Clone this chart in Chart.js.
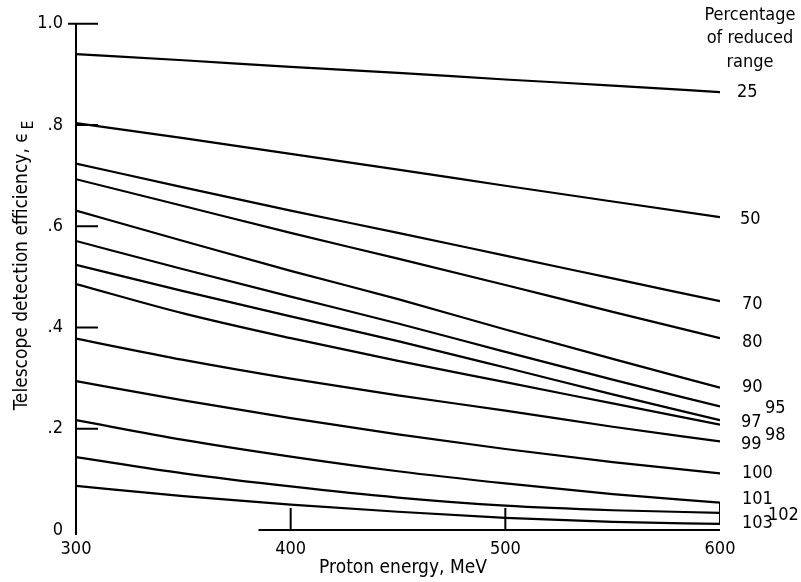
<!DOCTYPE html>
<html>
<head>
<meta charset="utf-8">
<script src="https://cdn.jsdelivr.net/npm/chart.js@4"></script>
<style>
  html, body { margin: 0; background: #fff; }
</style>
</head>
<body>
<canvas id="chart-eff" width="801" height="582"></canvas>
<script>
// proton energy, MeV
const energies = [300, 350, 400, 450, 500, 550, 600];

// percentage of reduced range, one curve each
const rangePct = ['25', '50', '70', '80', '90', '95', '97', '98', '99', '100', '101', '102', '103'];

// telescope detection efficiency at each energy
const eff25  = [0.940, 0.928, 0.915, 0.903, 0.890, 0.878, 0.865];
const eff50  = [0.804, 0.774, 0.743, 0.712, 0.680, 0.649, 0.618];
const eff70  = [0.724, 0.677, 0.631, 0.587, 0.542, 0.497, 0.452];
const eff80  = [0.693, 0.640, 0.587, 0.536, 0.484, 0.431, 0.379];
const eff90  = [0.631, 0.571, 0.512, 0.456, 0.396, 0.338, 0.281];
const eff95  = [0.571, 0.515, 0.461, 0.408, 0.352, 0.297, 0.244];
const eff97  = [0.524, 0.472, 0.422, 0.373, 0.321, 0.268, 0.217];
const eff98  = [0.486, 0.428, 0.379, 0.334, 0.292, 0.250, 0.208];
const eff99  = [0.378, 0.336, 0.299, 0.266, 0.236, 0.204, 0.175];
const eff100 = [0.294, 0.256, 0.221, 0.189, 0.160, 0.134, 0.112];
const eff101 = [0.217, 0.178, 0.145, 0.116, 0.092, 0.071, 0.054];
const eff102 = [0.144, 0.112, 0.086, 0.064, 0.048, 0.039, 0.034];
const eff103 = [0.087, 0.067, 0.050, 0.036, 0.024, 0.016, 0.012];

const curves = [eff25, eff50, eff70, eff80, eff90, eff95, eff97, eff98, eff99, eff100, eff101, eff102, eff103];

// y tick values drawn on the left axis
const yTicks = [0, 0.2, 0.4, 0.6, 0.8, 1.0];
const yTickText = ['0', '.2', '.4', '.6', '.8', '1.0'];

// nudges for the curve labels at the right end [dx, dy]
const labelNudge = [
  [17, 0], [20, 2], [22, 3], [22, 4], [22, 0], [45, 2], [21, 2],
  [45, 11], [21, 3], [22, 0], [22, -3], [48, 3], [22, -1]
];

const FONT = '"DejaVu Sans Condensed", "DejaVu Sans", sans-serif';

const datasets = curves.map((vals, i) => ({
  label: rangePct[i],
  data: energies.map((e, j) => ({ x: e, y: vals[j] })),
  borderColor: '#000',
  borderWidth: 2.2,
  pointRadius: 0,
  cubicInterpolationMode: 'monotone',
  fill: false
}));

// short bracket tying the 101-103 curve ends together
datasets.push({
  label: 'bracket',
  data: [{ x: 600, y: eff101[6] }, { x: 600, y: eff103[6] }],
  borderColor: '#000',
  borderWidth: 2,
  pointRadius: 0,
  fill: false
});

const decorations = {
  id: 'decorations',
  afterDraw(chart) {
    const ctx = chart.ctx;
    const xs = chart.scales.x, ys = chart.scales.y;
    const x0 = xs.getPixelForValue(300), y0 = ys.getPixelForValue(0);
    const yTop = ys.getPixelForValue(1);
    ctx.save();
    ctx.strokeStyle = '#000';
    ctx.fillStyle = '#000';
    ctx.lineWidth = 2;

    // axes
    ctx.beginPath();
    ctx.moveTo(x0, yTop);
    ctx.lineTo(x0, y0 + 5);
    ctx.moveTo(xs.getPixelForValue(385), y0);
    ctx.lineTo(xs.getPixelForValue(600), y0);
    ctx.stroke();

    // inside tick marks
    ctx.beginPath();
    yTicks.slice(1).forEach(v => {
      const py = ys.getPixelForValue(v);
      ctx.moveTo(v === 1 ? x0 - 8 : x0, py);
      ctx.lineTo(x0 + 22, py);
    });
    [400, 500].forEach(v => {
      const px = xs.getPixelForValue(v);
      ctx.moveTo(px, y0);
      ctx.lineTo(px, y0 - 22);
    });
    ctx.stroke();

    // curve labels
    ctx.font = '18px ' + FONT;
    ctx.textBaseline = 'middle';
    ctx.textAlign = 'left';
    const xEnd = xs.getPixelForValue(600);
    curves.forEach((vals, i) => {
      const py = ys.getPixelForValue(vals[vals.length - 1]);
      ctx.fillText(rangePct[i], xEnd + labelNudge[i][0], py + labelNudge[i][1]);
    });

    // legend heading
    ctx.textAlign = 'center';
    ctx.fillText('Percentage', 750, 15);
    ctx.fillText('of reduced', 750, 38);
    ctx.fillText('range', 750, 62);

    // x title
    ctx.font = '19px ' + FONT;
    ctx.fillText('Proton energy, MeV', 403, 568);

    // y title with subscript
    ctx.translate(22, 266);
    ctx.rotate(-Math.PI / 2);
    const main = 'Telescope detection efficiency, \u03F5';
    const wMain = ctx.measureText(main).width;
    ctx.font = '15px ' + FONT;
    const wSub = ctx.measureText('E').width;
    const start = -(wMain + wSub + 2) / 2;
    ctx.font = '19px ' + FONT;
    ctx.textAlign = 'left';
    ctx.fillText(main, start, 0);
    ctx.font = '15px ' + FONT;
    ctx.fillText('E', start + wMain + 3, 7);
    ctx.restore();
  }
};

new Chart(document.getElementById('chart-eff'), {
  type: 'line',
  data: { datasets },
  options: {
    responsive: false,
    animation: false,
    layout: { padding: { top: 21, right: 81 } },
    plugins: { legend: { display: false }, tooltip: { enabled: false } },
    scales: {
      x: {
        type: 'linear',
        min: 300,
        max: 600,
        afterFit: s => { s.height = 52; },
        afterBuildTicks: s => { s.ticks = energies.filter(e => e % 100 === 0).map(v => ({ value: v })); },
        grid: { display: false, drawTicks: false },
        border: { display: false },
        ticks: { color: '#000', padding: 9, font: { size: 18, family: FONT }, callback: v => String(v) }
      },
      y: {
        min: 0,
        max: 1,
        afterFit: s => { s.width = 76; },
        afterBuildTicks: s => { s.ticks = yTicks.map(v => ({ value: v })); },
        grid: { display: false, drawTicks: false },
        border: { display: false },
        ticks: {
          color: '#000',
          padding: 13,
          font: { size: 18, family: FONT },
          callback: v => yTickText[yTicks.findIndex(t => Math.abs(t - v) < 1e-6)]
        }
      }
    }
  },
  plugins: [decorations]
});
</script>
</body>
</html>
